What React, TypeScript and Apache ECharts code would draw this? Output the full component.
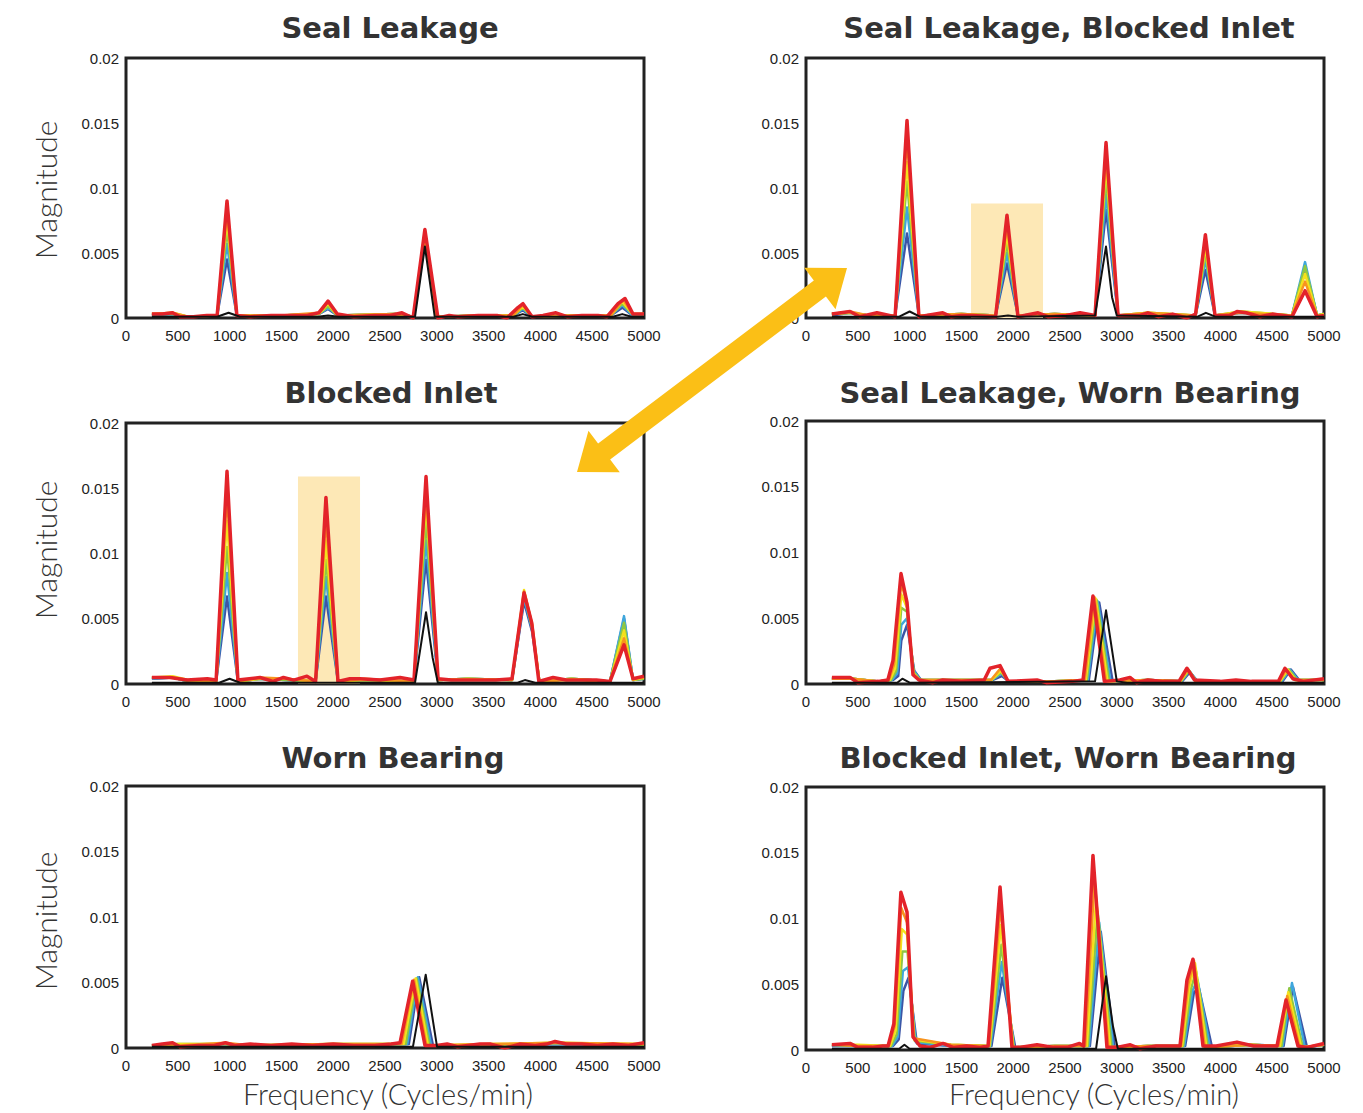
import React, { useEffect, useRef } from "react";
import * as echarts from "echarts";

// ---------- DATA (frequency in cycles/min, magnitude) ----------
const X_TICKS_MAX = 5000;
const Y_MAX = 0.02;

// Panel 1: Seal Leakage
const P1_B = [[250,.0002],[450,.0003],[600,.0001],[880,.0002],[975,.0045],[1070,.0002],[1500,.0002],[1860,.0003],[1950,.0007],[2040,.0002],[2600,.0003],[2780,.0001],[2885,.0059],[3000,.0001],[3400,.0002],[3740,.0002],[3830,.0006],[3920,.0001],[4300,.0002],[4680,.0002],[4790,.0008],[4890,.0002],[5000,.0002]];
const P1_C = [[250,.0002],[450,.0003],[600,.0001],[880,.0002],[975,.0057],[1070,.0002],[1500,.0002],[1860,.0003],[1950,.0008],[2040,.0002],[2600,.0003],[2780,.0001],[2885,.0061],[3000,.0001],[3400,.0002],[3740,.0002],[3830,.0007],[3920,.0001],[4300,.0002],[4680,.0002],[4790,.0010],[4890,.0002],[5000,.0002]];
const P1_G = [[250,.0003],[450,.0003],[600,.0001],[880,.0002],[975,.0068],[1070,.0002],[1500,.0002],[1860,.0003],[1950,.0009],[2040,.0002],[2600,.0003],[2780,.0001],[2885,.0063],[3000,.0001],[3400,.0002],[3740,.0002],[3830,.0008],[3920,.0001],[4300,.0002],[4680,.0002],[4790,.0011],[4890,.0003],[5000,.0003]];
const P1_Y = [[250,.0003],[450,.0004],[600,.0001],[880,.0002],[975,.0076],[1070,.0002],[1500,.0002],[1860,.0003],[1950,.0011],[2040,.0002],[2600,.0003],[2780,.0001],[2885,.0065],[3000,.0001],[3400,.0002],[3740,.0002],[3830,.0009],[3920,.0001],[4300,.0002],[4680,.0002],[4790,.0013],[4890,.0003],[5000,.0003]];
const P1_O = [[250,.0003],[450,.0004],[600,.0001],[880,.0002],[975,.0083],[1070,.0002],[1500,.0002],[1860,.0004],[1950,.0012],[2040,.0002],[2600,.0003],[2780,.0001],[2885,.0067],[3000,.0001],[3400,.0002],[3740,.0002],[3830,.0010],[3920,.0001],[4300,.0002],[4680,.0002],[4800,.0014],[4890,.0003],[5000,.0003]];
const P1_R = [[250,.0003],[350,.0003],[450,.0004],[520,.0001],[650,.0001],[780,.0002],[880,.0002],[975,.0090],[1070,.0002],[1200,.0001],[1400,.0002],[1600,.0002],[1750,.0002],[1860,.0004],[1950,.0013],[2040,.0003],[2200,.0001],[2400,.0002],[2550,.0002],[2664,.0004],[2771,.0000],[2885,.0068],[3011,.0000],[3120,.0002],[3205,.0001],[3400,.0002],[3580,.0002],[3677,.0000],[3783,.0008],[3832,.0011],[3919,.0001],[4025,.0002],[4150,.0004],[4257,.0001],[4400,.0002],[4556,.0002],[4643,.0001],[4749,.0011],[4817,.0015],[4894,.0003],[5000,.0003]];
const P1_K = [[250,.0001],[880,.0001],[990,.0004],[1100,.0001],[1850,.0001],[1950,.0002],[2050,.0001],[2790,.0001],[2885,.0055],[2980,.0001],[3740,.0001],[3830,.0003],[3920,.0001],[4700,.0001],[4790,.0003],[4880,.0001],[5000,.0001]];

// Panel 2: Seal Leakage, Blocked Inlet
const P2_B = [[250,.0002],[425,.0004],[600,.0002],[860,.0002],[975,.0065],[1090,.0002],[1500,.0003],[1830,.0002],[1940,.0042],[2046,.0002],[2400,.0003],[2790,.0002],[2896,.0083],[3012,.0002],[3300,.0003],[3760,.0002],[3855,.0037],[3948,.0002],[4200,.0004],[4691,.0002],[4817,.0039],[4933,.0002],[5000,.0003]];
const P2_C = [[250,.0003],[425,.0004],[600,.0002],[860,.0002],[975,.0085],[1090,.0002],[1500,.0003],[1830,.0002],[1940,.0050],[2046,.0002],[2400,.0003],[2790,.0002],[2896,.0095],[3012,.0002],[3300,.0003],[3760,.0002],[3855,.0045],[3948,.0002],[4200,.0004],[4691,.0002],[4817,.0043],[4933,.0002],[5000,.0003]];
const P2_G = [[250,.0003],[425,.0004],[600,.0002],[860,.0002],[975,.0105],[1090,.0002],[1500,.0003],[1830,.0002],[1940,.0058],[2046,.0002],[2400,.0003],[2790,.0002],[2896,.0108],[3012,.0002],[3300,.0004],[3760,.0002],[3855,.0050],[3948,.0002],[4200,.0005],[4691,.0002],[4817,.0040],[4933,.0002],[5000,.0003]];
const P2_Y = [[250,.0003],[425,.0004],[600,.0002],[860,.0002],[975,.0120],[1090,.0002],[1500,.0003],[1830,.0002],[1940,.0065],[2046,.0002],[2400,.0003],[2790,.0002],[2896,.0118],[3012,.0002],[3300,.0004],[3760,.0002],[3855,.0055],[3948,.0002],[4200,.0005],[4691,.0002],[4817,.0034],[4933,.0002],[5000,.0003]];
const P2_O = [[250,.0003],[425,.0005],[600,.0002],[860,.0002],[975,.0138],[1090,.0002],[1500,.0003],[1830,.0002],[1940,.0072],[2046,.0002],[2400,.0003],[2790,.0002],[2896,.0128],[3012,.0002],[3300,.0004],[3760,.0002],[3855,.0060],[3948,.0002],[4200,.0004],[4691,.0002],[4817,.0028],[4933,.0002],[5000,.0002]];
const P2_R = [[250,.0003],[425,.0005],[520,.0001],[685,.0004],[860,.0001],[975,.0152],[1090,.0001],[1320,.0004],[1400,.0001],[1500,.0002],[1610,.0002],[1830,.0001],[1940,.0079],[2046,.0001],[2240,.0004],[2335,.0001],[2510,.0002],[2645,.0004],[2790,.0002],[2896,.0135],[3012,.0002],[3224,.0002],[3300,.0004],[3400,.0001],[3540,.0003],[3677,.0000],[3760,.0003],[3855,.0064],[3948,.0002],[4090,.0002],[4160,.0005],[4250,.0004],[4380,.0001],[4500,.0003],[4691,.0001],[4817,.0021],[4933,.0001],[5000,.0002]];
const P2_K = [[250,.0001],[900,.0001],[1000,.0005],[1100,.0001],[1850,.0001],[1950,.0002],[2050,.0001],[2790,.0002],[2896,.0055],[2954,.0016],[3000,.0002],[3780,.0001],[3860,.0004],[3950,.0001],[5000,.0001]];

// Panel 3: Blocked Inlet
const P3_B = [[250,.0004],[450,.0005],[600,.0002],[870,.0002],[975,.0067],[1080,.0002],[1300,.0004],[1550,.0003],[1830,.0002],[1930,.0067],[2046,.0002],[2300,.0003],[2780,.0002],[2896,.0095],[3012,.0003],[3300,.0004],[3726,.0003],[3842,.0063],[3920,.0040],[3990,.0002],[4300,.0004],[4672,.0002],[4807,.0050],[4894,.0003],[5000,.0004]];
const P3_C = [[250,.0004],[450,.0005],[600,.0002],[870,.0002],[975,.0085],[1080,.0002],[1300,.0004],[1550,.0003],[1830,.0002],[1930,.0082],[2046,.0002],[2300,.0003],[2780,.0002],[2896,.0110],[3012,.0003],[3300,.0004],[3726,.0003],[3842,.0066],[3920,.0042],[3990,.0002],[4300,.0004],[4672,.0002],[4807,.0052],[4894,.0003],[5000,.0004]];
const P3_G = [[250,.0005],[450,.0005],[600,.0002],[870,.0002],[975,.0105],[1080,.0002],[1300,.0004],[1550,.0003],[1830,.0002],[1930,.0095],[2046,.0002],[2300,.0003],[2780,.0002],[2896,.0125],[3012,.0003],[3300,.0004],[3726,.0003],[3842,.0069],[3920,.0043],[3990,.0002],[4300,.0004],[4672,.0002],[4807,.0047],[4894,.0003],[5000,.0004]];
const P3_Y = [[250,.0005],[450,.0006],[600,.0003],[870,.0002],[975,.0125],[1080,.0002],[1300,.0004],[1550,.0004],[1830,.0002],[1930,.0110],[2046,.0002],[2300,.0003],[2780,.0002],[2896,.0140],[3012,.0003],[3300,.0004],[3726,.0003],[3842,.0072],[3920,.0045],[3990,.0002],[4300,.0004],[4672,.0002],[4807,.0041],[4894,.0003],[5000,.0005]];
const P3_O = [[250,.0005],[450,.0005],[600,.0003],[870,.0002],[975,.0145],[1080,.0002],[1300,.0005],[1550,.0004],[1830,.0002],[1930,.0127],[2046,.0002],[2300,.0004],[2780,.0002],[2896,.0150],[3012,.0003],[3300,.0003],[3726,.0003],[3842,.0071],[3920,.0046],[3990,.0002],[4300,.0003],[4672,.0002],[4807,.0035],[4894,.0004],[5000,.0005]];
const P3_R = [[250,.0005],[425,.0005],[590,.0003],[785,.0004],[870,.0003],[975,.0163],[1080,.0003],[1293,.0005],[1420,.0002],[1520,.0005],[1620,.0003],[1747,.0006],[1830,.0002],[1930,.0143],[2046,.0002],[2160,.0004],[2260,.0004],[2452,.0003],[2645,.0005],[2780,.0003],[2896,.0159],[3012,.0004],[3140,.0003],[3350,.0003],[3570,.0003],[3726,.0004],[3842,.0070],[3916,.0047],[3985,.0002],[4122,.0005],[4250,.0003],[4540,.0003],[4672,.0002],[4807,.0030],[4894,.0004],[5000,.0006]];
const P3_K = [[250,.0001],[900,.0001],[1000,.0004],[1100,.0001],[2790,.0001],[2896,.0055],[2960,.0020],[3010,.0001],[3780,.0001],[3850,.0003],[3950,.0001],[5000,.0001]];

// Panel 4: Seal Leakage, Worn Bearing
const P4_B = [[250,.0004],[450,.0004],[700,.0002],[840,.0003],[890,.0006],[920,.0033],[975,.0045],[1045,.0010],[1110,.0003],[1400,.0003],[1800,.0003],[1890,.0006],[1960,.0002],[2400,.0002],[2730,.0003],[2830,.0062],[2960,.0002],[3300,.0003],[3630,.0002],[3705,.0009],[3780,.0002],[4600,.0002],[4680,.0011],[4760,.0003],[5000,.0003]];
const P4_C = [[250,.0004],[450,.0004],[700,.0002],[830,.0003],[880,.0008],[920,.0045],[975,.0050],[1040,.0010],[1105,.0003],[1400,.0003],[1795,.0003],[1886,.0008],[1958,.0002],[2400,.0002],[2720,.0003],[2815,.0063],[2940,.0002],[3300,.0003],[3625,.0002],[3700,.0010],[3775,.0002],[4590,.0002],[4670,.0011],[4750,.0003],[5000,.0003]];
const P4_G = [[250,.0004],[450,.0004],[700,.0002],[820,.0003],[870,.0010],[920,.0058],[975,.0055],[1040,.0009],[1100,.0003],[1400,.0003],[1790,.0003],[1884,.0009],[1956,.0002],[2400,.0002],[2710,.0003],[2805,.0064],[2925,.0002],[3300,.0003],[3620,.0002],[3695,.0010],[3770,.0002],[4580,.0002],[4660,.0011],[4740,.0003],[5000,.0003]];
const P4_Y = [[250,.0004],[450,.0004],[700,.0002],[810,.0003],[860,.0012],[920,.0068],[975,.0058],[1037,.0008],[1100,.0003],[1400,.0003],[1788,.0003],[1880,.0010],[1955,.0002],[2400,.0002],[2700,.0003],[2795,.0065],[2910,.0002],[3300,.0003],[3615,.0002],[3690,.0011],[3765,.0002],[4575,.0002],[4650,.0011],[4725,.0003],[5000,.0003]];
const P4_O = [[250,.0004],[450,.0004],[700,.0002],[800,.0003],[850,.0015],[920,.0077],[975,.0060],[1035,.0007],[1100,.0003],[1400,.0003],[1785,.0003],[1878,.0012],[1952,.0002],[2400,.0002],[2690,.0003],[2785,.0066],[2895,.0002],[3300,.0003],[3610,.0002],[3685,.0011],[3760,.0002],[4570,.0002],[4635,.0011],[4715,.0003],[5000,.0003]];
const P4_R = [[250,.0005],[425,.0005],[500,.0001],[700,.0002],[790,.0003],[840,.0018],[917,.0084],[975,.0062],[1033,.0007],[1090,.0003],[1226,.0001],[1320,.0003],[1500,.0002],[1720,.0003],[1776,.0012],[1873,.0014],[1950,.0002],[2230,.0003],[2320,.0001],[2570,.0002],[2674,.0003],[2770,.0067],[2880,.0002],[3030,.0003],[3127,.0005],[3190,.0001],[3300,.0003],[3450,.0002],[3600,.0002],[3677,.0012],[3750,.0003],[4000,.0002],[4150,.0003],[4300,.0002],[4560,.0002],[4623,.0012],[4700,.0004],[4800,.0002],[5000,.0004]];
const P4_K = [[250,.0001],[880,.0001],[930,.0004],[1000,.0001],[2790,.0002],[2896,.0056],[3000,.0002],[3100,.0001],[5000,.0001]];

// Panel 5: Worn Bearing
const P5_B = [[250,.0002],[500,.0002],[960,.0003],[1200,.0002],[2000,.0002],[2730,.0003],[2830,.0054],[2963,.0002],[3500,.0002],[4141,.0003],[5000,.0002]];
const P5_C = [[250,.0002],[500,.0002],[960,.0003],[1200,.0002],[2000,.0002],[2715,.0003],[2818,.0054],[2945,.0002],[3500,.0002],[4141,.0003],[5000,.0002]];
const P5_G = [[250,.0002],[500,.0003],[960,.0003],[1200,.0002],[2000,.0003],[2700,.0003],[2805,.0053],[2930,.0002],[3500,.0002],[4141,.0004],[5000,.0002]];
const P5_Y = [[250,.0002],[500,.0003],[960,.0003],[1200,.0002],[2000,.0003],[2680,.0003],[2795,.0053],[2915,.0002],[3500,.0003],[4141,.0004],[5000,.0003]];
const P5_O = [[250,.0002],[500,.0002],[960,.0004],[1200,.0002],[2000,.0003],[2660,.0003],[2780,.0052],[2900,.0002],[3500,.0003],[4141,.0004],[5000,.0003]];
const P5_R = [[250,.0002],[350,.0003],[450,.0004],[520,.0001],[700,.0002],[850,.0002],[960,.0004],[1050,.0002],[1200,.0003],[1400,.0002],[1600,.0003],[1800,.0002],[2000,.0003],[2200,.0002],[2400,.0002],[2560,.0003],[2645,.0004],[2767,.0051],[2886,.0002],[3000,.0002],[3100,.0003],[3200,.0001],[3417,.0003],[3520,.0003],[3658,.0000],[3800,.0003],[3950,.0002],[4060,.0003],[4141,.0005],[4250,.0003],[4400,.0003],[4550,.0002],[4700,.0003],[4850,.0002],[5000,.0004]];
const P5_K = [[250,.0001],[2770,.0001],[2893,.0056],[3002,.0001],[5000,.0001]];

// Panel 6: Blocked Inlet, Worn Bearing
const P6_B = [[250,.0003],[500,.0003],[840,.0003],[895,.0008],[940,.0045],[990,.0055],[1070,.0005],[1400,.0003],[1790,.0003],[1895,.0055],[2020,.0002],[2400,.0003],[2740,.0003],[2845,.0090],[2980,.0002],[3300,.0003],[3660,.0003],[3745,.0044],[3793,.0047],[3919,.0002],[4300,.0004],[4610,.0003],[4700,.0048],[4836,.0002],[5000,.0004]];
const P6_C = [[250,.0003],[500,.0003],[830,.0003],[885,.0010],[935,.0060],[985,.0063],[1060,.0006],[1400,.0003],[1780,.0003],[1890,.0067],[2010,.0002],[2400,.0003],[2730,.0003],[2830,.0097],[2965,.0002],[3300,.0003],[3650,.0003],[3730,.0045],[3780,.0053],[3900,.0002],[4300,.0004],[4600,.0003],[4691,.0051],[4815,.0002],[5000,.0004]];
const P6_G = [[250,.0004],[500,.0003],[820,.0003],[875,.0012],[930,.0075],[980,.0075],[1050,.0007],[1400,.0004],[1775,.0003],[1886,.0080],[2005,.0002],[2400,.0003],[2720,.0003],[2815,.0105],[2950,.0002],[3300,.0003],[3640,.0003],[3715,.0046],[3765,.0060],[3880,.0002],[4300,.0004],[4590,.0003],[4665,.0047],[4795,.0002],[5000,.0004]];
const P6_Y = [[250,.0004],[500,.0004],[810,.0003],[865,.0015],[925,.0092],[975,.0088],[1045,.0008],[1400,.0004],[1770,.0003],[1882,.0095],[2000,.0002],[2400,.0003],[2710,.0003],[2800,.0115],[2935,.0002],[3300,.0003],[3630,.0003],[3700,.0048],[3755,.0066],[3865,.0002],[4300,.0004],[4575,.0003],[4655,.0044],[4780,.0002],[5000,.0004]];
const P6_O = [[250,.0004],[500,.0003],[800,.0003],[855,.0018],[920,.0108],[975,.0097],[1040,.0009],[1400,.0004],[1765,.0003],[1878,.0110],[1995,.0002],[2400,.0003],[2695,.0003],[2785,.0130],[2920,.0002],[3300,.0003],[3620,.0003],[3690,.0050],[3745,.0068],[3850,.0002],[4300,.0004],[4560,.0003],[4645,.0041],[4765,.0002],[5000,.0004]];
const P6_R = [[250,.0004],[425,.0005],[500,.0002],[640,.0002],[740,.0003],[792,.0003],[848,.0020],[916,.0120],[975,.0105],[1033,.0010],[1100,.0003],[1200,.0002],[1322,.0005],[1420,.0002],[1550,.0003],[1680,.0002],[1757,.0003],[1873,.0124],[1988,.0002],[2060,.0002],[2230,.0004],[2390,.0002],[2520,.0002],[2640,.0005],[2680,.0003],[2770,.0148],[2905,.0002],[3000,.0002],[3130,.0004],[3220,.0001],[3380,.0003],[3540,.0003],[3610,.0003],[3677,.0053],[3735,.0069],[3832,.0003],[3960,.0003],[4160,.0006],[4320,.0003],[4480,.0003],[4546,.0003],[4633,.0038],[4749,.0003],[4836,.0002],[5000,.0005]];
const P6_K = [[250,.0001],[900,.0001],[950,.0004],[1000,.0001],[2800,.0001],[2896,.0056],[2963,.0018],[3010,.0001],[5000,.0001]];

// Highlighted regions (frequency range, magnitude top)
const HL_P2 = [[1593, 0], [2288, 0.0088]];
const HL_P3 = [[1660, 0], [2259, 0.0159]];

const TITLES = [
  "Seal Leakage",
  "Seal Leakage, Blocked Inlet",
  "Blocked Inlet",
  "Seal Leakage, Worn Bearing",
  "Worn Bearing",
  "Blocked Inlet, Worn Bearing",
];

const PANEL_SERIES = [
  [P1_B, P1_C, P1_G, P1_Y, P1_O, P1_R, P1_K],
  [P2_B, P2_C, P2_G, P2_Y, P2_O, P2_R, P2_K],
  [P3_B, P3_C, P3_G, P3_Y, P3_O, P3_R, P3_K],
  [P4_B, P4_C, P4_G, P4_Y, P4_O, P4_R, P4_K],
  [P5_B, P5_C, P5_G, P5_Y, P5_O, P5_R, P5_K],
  [P6_B, P6_C, P6_G, P6_Y, P6_O, P6_R, P6_K],
];
const PANEL_HL = [null, HL_P2, HL_P3, null, null, null];

// ---------- STYLE / LAYOUT ----------
const LINE_COLORS = ["#3b55a6", "#3ea6dc", "#8fc742", "#f4e11c", "#f7941e", "#e3232a", "#111111"];
const LINE_WIDTHS = [2.5, 2.5, 2.5, 2.5, 2.5, 3.5, 2];

const GRIDS = [
  { left: 126, top: 58, width: 518, height: 260 },
  { left: 806, top: 58, width: 518, height: 260 },
  { left: 126, top: 423, width: 518, height: 261 },
  { left: 806, top: 421, width: 518, height: 263 },
  { left: 126, top: 786, width: 518, height: 262 },
  { left: 806, top: 787, width: 518, height: 263 },
];
const TITLE_POS = [
  [390, 28], [1069, 28], [391, 393], [1070, 393], [393, 758], [1068, 758],
];

const fmtY = (v: number) => String(parseFloat(v.toFixed(4)));
const fmtX = (v: number) => String(Math.round(v));

function arrowPoints(ax: number, ay: number, bx: number, by: number, h: number, w: number, s: number) {
  const L = Math.hypot(ax - bx, ay - by);
  const ux = (ax - bx) / L, uy = (ay - by) / L;
  const nx = -uy, ny = ux;
  const p = (x: number, y: number) => [x, y];
  return [
    p(ax, ay),
    p(ax - h * ux + w * nx, ay - h * uy + w * ny),
    p(ax - h * ux + s * nx, ay - h * uy + s * ny),
    p(bx + h * ux + s * nx, by + h * uy + s * ny),
    p(bx + h * ux + w * nx, by + h * uy + w * ny),
    p(bx, by),
    p(bx + h * ux - w * nx, by + h * uy - w * ny),
    p(bx + h * ux - s * nx, by + h * uy - s * ny),
    p(ax - h * ux - s * nx, ay - h * uy - s * ny),
    p(ax - h * ux - w * nx, ay - h * uy - w * ny),
  ];
}

export default function App() {
  const ref = useRef<HTMLDivElement>(null);
  useEffect(() => {
    if (!ref.current) return;
    const chart = echarts.init(ref.current, undefined, { renderer: "svg" });
    const series: any[] = [];
    PANEL_SERIES.forEach((lines, i) => {
      const hl = PANEL_HL[i];
      if (hl) {
        series.push({
          type: "line",
          xAxisIndex: i,
          yAxisIndex: i,
          data: [],
          z: 1,
          silent: true,
          markArea: {
            silent: true,
            itemStyle: { color: "#fde8b6" },
            data: [[{ coord: hl[0] }, { coord: hl[1] }]],
          },
        });
      }
      lines.forEach((d, j) => {
        series.push({
          type: "line",
          xAxisIndex: i,
          yAxisIndex: i,
          data: d,
          symbol: "none",
          showSymbol: false,
          z: 2 + j,
          lineStyle: { color: LINE_COLORS[j], width: LINE_WIDTHS[j], join: "round" },
          emphasis: { disabled: true },
        });
      });
    });

    const textBase = { fill: "#333333" };
    const graphic: any[] = [];
    TITLES.forEach((t, i) => {
      graphic.push({
        type: "text",
        x: TITLE_POS[i][0],
        y: TITLE_POS[i][1],
        z: 10,
        style: {
          ...textBase,
          text: t,
          font: "bold 29px 'DejaVu Sans', sans-serif",
          align: "center",
          verticalAlign: "middle",
        },
      });
    });
    [190, 550, 921].forEach((cy) => {
      graphic.push({
        type: "text",
        x: 45,
        y: cy,
        rotation: Math.PI / 2,
        z: 10,
        style: {
          ...textBase,
          text: "Magnitude",
          font: "300 30px Lato, sans-serif",
          align: "center",
          verticalAlign: "middle",
        },
      });
    });
    [388, 1094].forEach((cx) => {
      graphic.push({
        type: "text",
        x: cx,
        y: 1093,
        z: 10,
        style: {
          ...textBase,
          text: "Frequency (Cycles/min)",
          font: "300 29px Lato, sans-serif",
          align: "center",
          verticalAlign: "middle",
        },
      });
    });
    graphic.push({
      type: "polygon",
      z: 100,
      shape: { points: arrowPoints(847, 268, 577, 472, 34, 26, 10) },
      style: { fill: "#fbbf16" },
    });

    chart.setOption({
      animation: false,
      backgroundColor: "#ffffff",
      grid: GRIDS.map((g) => ({ ...g, show: true, borderColor: "#222222", borderWidth: 3, backgroundColor: "transparent" })),
      xAxis: GRIDS.map((_, i) => ({
        type: "value",
        gridIndex: i,
        min: 0,
        max: X_TICKS_MAX,
        interval: 500,
        axisLine: { show: false },
        axisTick: { show: false },
        splitLine: { show: false },
        axisLabel: { fontSize: 15, color: "#222", margin: 10, formatter: fmtX, fontFamily: "'Liberation Sans', Arial, sans-serif" },
      })),
      yAxis: GRIDS.map((_, i) => ({
        type: "value",
        gridIndex: i,
        min: 0,
        max: Y_MAX,
        interval: 0.005,
        axisLine: { show: false },
        axisTick: { show: false },
        splitLine: { show: false },
        axisLabel: { fontSize: 15, color: "#222", margin: 7, formatter: fmtY, fontFamily: "'Liberation Sans', Arial, sans-serif" },
      })),
      series,
      graphic,
    });
    return () => chart.dispose();
  }, []);
  return <div ref={ref} style={{ position: "fixed", left: 0, top: 0, width: 1363, height: 1113 }} />;
}
